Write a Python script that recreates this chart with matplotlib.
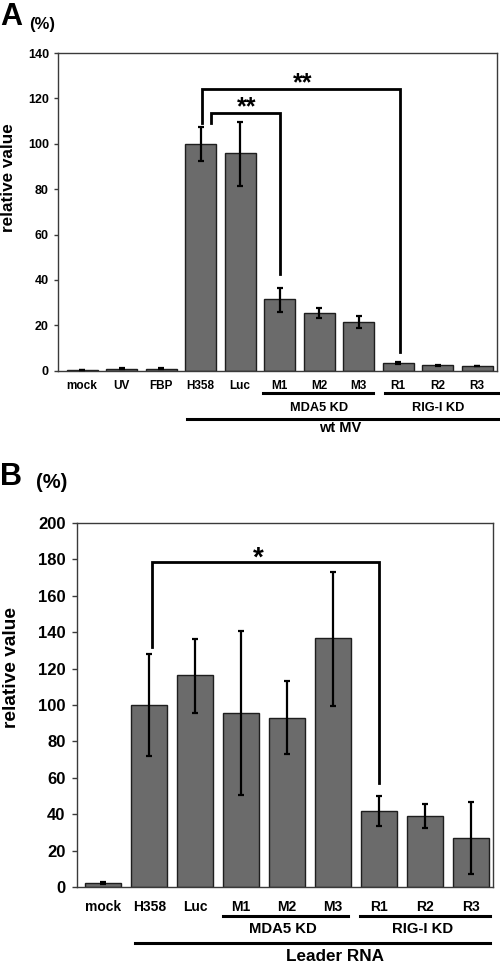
import matplotlib
matplotlib.use("Agg")
import matplotlib.pyplot as plt
from matplotlib.transforms import blended_transform_factory
import numpy as np

plt.rcParams['font.family'] = ['Liberation Sans', 'DejaVu Sans']
plt.rcParams['font.weight'] = 'bold'

# ---------------- data ----------------
cats_a = ["mock", "UV", "FBP", "H358", "Luc", "M1", "M2", "M3", "R1", "R2", "R3"]
vals_a = [0.3, 0.8, 0.8, 100, 96, 31.5, 25.5, 21.5, 3.3, 2.3, 2.0]
errlo_a = [0.1, 0.2, 0.2, 7.4, 14.5, 5.5, 2.2, 2.7, 0.5, 0.1, 0.1]
errhi_a = [0.1, 0.2, 0.2, 7.2, 13.8, 5.1, 2.3, 2.4, 0.5, 0.1, 0.1]
yticks_a = [0, 20, 40, 60, 80, 100, 120, 140]

cats_b = ["mock", "H358", "Luc", "M1", "M2", "M3", "R1", "R2", "R3"]
vals_b = [2, 100, 116.3, 95.8, 93, 136.7, 41.6, 39, 27]
errlo_b = [0.6, 28, 20.5, 45, 20, 37.3, 8.1, 6.6, 20]
errhi_b = [0.6, 28, 20.2, 45, 20, 36.5, 8.2, 6.8, 19.7]
yticks_b = [0, 20, 40, 60, 80, 100, 120, 140, 160, 180, 200]

W, H = 500, 963
fig = plt.figure(figsize=(W / 100, H / 100), dpi=100)

def fy(p):
    return 1 - p / H

def fx(p):
    return p / W

BAR = "#6b6b6b"
EDGE = "#1e1e1e"
SPINE = "#3a3a3a"

def setup(ax, cats, vals, lo, hi, yt, ylim, xlim, tick_fs, xt_fs, pad_x, pad_y, tlen):
    x = np.arange(len(cats))
    ax.bar(x, vals, width=0.78, color=BAR, edgecolor=EDGE, linewidth=1.0, zorder=2)
    ax.errorbar(x, vals, yerr=[lo, hi], fmt='none', ecolor='black',
                elinewidth=1.6, capsize=2.2, capthick=1.6, zorder=3)
    ax.set_xlim(*xlim)
    ax.set_ylim(*ylim)
    ax.set_yticks(yt)
    ax.set_yticklabels([str(v) for v in yt], fontsize=tick_fs, fontweight='bold')
    ax.set_xticks(x)
    ax.set_xticklabels(cats, fontsize=xt_fs, fontweight='bold')
    ax.tick_params(axis='x', length=0, pad=pad_x)
    ax.tick_params(axis='y', direction='out', length=tlen, width=1.0,
                   color=SPINE, pad=pad_y)
    for s in ax.spines.values():
        s.set_color(SPINE)
        s.set_linewidth(1.0)

# ---------------- panel A ----------------
axA = fig.add_axes([fx(58), fy(370.7), fx(497) - fx(58), fy(53) - fy(370.7)])
setup(axA, cats_a, vals_a, errlo_a, errhi_a, yticks_a, (0, 140), (-0.61, 10.5),
      9, 8.5, 7, 3.5, 3)
trA = blended_transform_factory(axA.transData, fig.transFigure)

# significance brackets A
axA.plot([3.25, 3.25, 5.0, 5.0], [109, 113.4, 113.4, 42.6], color='black',
         lw=2.0, clip_on=False, zorder=4, solid_joinstyle='miter')
axA.plot([3.03, 3.03, 8.05, 8.05], [109, 124, 124, 8.3], color='black',
         lw=2.0, clip_on=False, zorder=4, solid_joinstyle='miter')
axA.text(4.17, 113.0, "**", ha='center', va='baseline', fontsize=18, fontweight='bold')
axA.text(5.57, 123.6, "**", ha='center', va='baseline', fontsize=18, fontweight='bold')

# group lines A
axA.plot([4.58, 7.36], [fy(393)] * 2, transform=trA, color='black', lw=2.2, clip_on=False)
axA.plot([7.67, 10.53], [fy(393)] * 2, transform=trA, color='black', lw=2.2, clip_on=False)
axA.text(6.0, fy(408), "MDA5 KD", transform=trA, ha='center', va='center', fontsize=9.2, fontweight='bold')
axA.text(9.0, fy(408), "RIG-I KD", transform=trA, ha='center', va='center', fontsize=9.2, fontweight='bold')
axA.plot([2.655, 10.53], [fy(419)] * 2, transform=trA, color='black', lw=2.2, clip_on=False)
axA.text(6.53, fy(428.5), "wt MV", transform=trA, ha='center', va='center', fontsize=10.5, fontweight='bold')

fig.text(fx(9), fy(178), "relative value", rotation=90, ha='center', va='center',
         fontsize=12.3, fontweight='bold')
fig.text(fx(0), fy(25), "A", ha='left', va='baseline', fontsize=22, fontweight='bold')
fig.text(fx(42), fy(25), "(%)", ha='center', va='center', fontsize=12, fontweight='bold')

# ---------------- panel B ----------------
axB = fig.add_axes([fx(76.7), fy(887), fx(492.7) - fx(76.7), fy(523) - fy(887)])
setup(axB, cats_b, vals_b, errlo_b, errhi_b, yticks_b, (0, 200), (-0.58, 8.48),
      12, 10, 9, 4.5, 3.5)
trB = blended_transform_factory(axB.transData, fig.transFigure)

axB.plot([1.05, 1.05, 6.0, 6.0], [131.7, 178.4, 178.4, 57], color='black',
         lw=2.0, clip_on=False, zorder=4, solid_joinstyle='miter')
axB.text(3.37, 176.5, "*", ha='center', va='baseline', fontsize=20, fontweight='bold')

axB.plot([2.60, 5.32], [fy(915.7)] * 2, transform=trB, color='black', lw=2.2, clip_on=False)
axB.plot([5.60, 8.42], [fy(915.7)] * 2, transform=trB, color='black', lw=2.2, clip_on=False)
axB.text(3.92, fy(929), "MDA5 KD", transform=trB, ha='center', va='center', fontsize=10.7, fontweight='bold')
axB.text(6.95, fy(929), "RIG-I KD", transform=trB, ha='center', va='center', fontsize=10.7, fontweight='bold')
axB.plot([0.69, 8.43], [fy(943.3)] * 2, transform=trB, color='black', lw=2.2, clip_on=False)
axB.text(5.04, fy(956.5), "Leader RNA", transform=trB, ha='center', va='center', fontsize=12.3, fontweight='bold')

fig.text(fx(12), fy(667.5), "relative value", rotation=90, ha='center', va='center',
         fontsize=13.8, fontweight='bold')
fig.text(fx(0), fy(485), "B", ha='left', va='baseline', fontsize=22, fontweight='bold')
fig.text(fx(52), fy(483), "(%)", ha='center', va='center', fontsize=14.5, fontweight='bold')

fig.savefig("out.png", dpi=100)
